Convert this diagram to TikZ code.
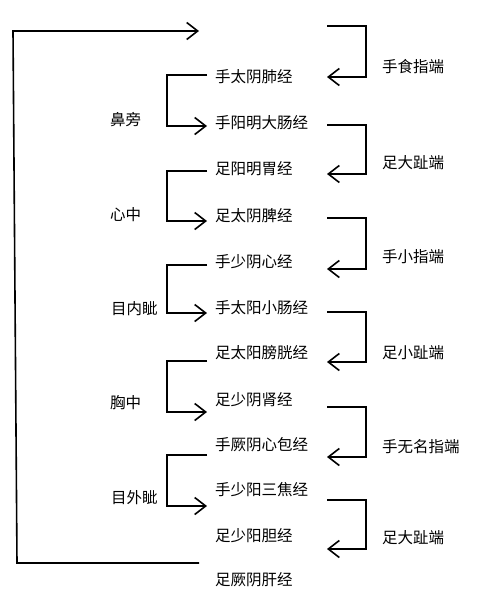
\documentclass[tikz,border=0pt]{standalone}
\usepackage{fontspec}
\newfontfamily\cjk{Noto Sans CJK SC}
\usetikzlibrary{arrows.meta}
\begin{document}
\begin{tikzpicture}[x=1pt,y=-1pt,
  mer/.style={anchor=west,inner sep=0pt,font=\cjk\fontsize{15.5}{16}\selectfont},
  lab/.style={anchor=west,inner sep=0pt,font=\cjk\fontsize{15.5}{16}\selectfont},
  ln/.style={line width=1.6pt,line join=miter},
  arr/.style={ln,-{Straight Barb[length=11pt,width=17pt,line width=1.6pt]}}]
\useasboundingbox (0,0) rectangle (500,613);
% meridians
\node[mer] (m1) at (215,77) {手太阴肺经};
\node[mer] (m2) at (215,123) {手阳明大肠经};
\node[mer] (m3) at (215,169) {足阳明胃经};
\node[mer] (m4) at (215,216) {足太阴脾经};
\node[mer] (m5) at (215,262) {手少阴心经};
\node[mer] (m6) at (215,308) {手太阳小肠经};
\node[mer] (m7) at (215,353) {足太阳膀胱经};
\node[mer] (m8) at (215,400) {足少阴肾经};
\node[mer] (m9) at (215,445) {手厥阴心包经};
\node[mer] (m10) at (215,490) {手少阳三焦经};
\node[mer] (m11) at (215,536) {足少阳胆经};
\node[mer] (m12) at (215,580) {足厥阴肝经};
% left labels
\node[lab] (l1) at (110,120) {鼻旁};
\node[lab] (l2) at (110,215) {心中};
\node[lab] (l3) at (111,309) {目内眦};
\node[lab] (l4) at (110,403) {胸中};
\node[lab] (l5) at (111,498) {目外眦};
% right labels
\node[lab] (r1) at (382,67) {手食指端};
\node[lab] (r2) at (382,163) {足大趾端};
\node[lab] (r3) at (382,257) {手小指端};
\node[lab] (r4) at (382,353) {足小趾端};
\node[lab] (r5) at (382,447) {手无名指端};
\node[lab] (r6) at (382,538) {足大趾端};
% left bracket ends
\coordinate (a1) at (207,75);  \coordinate (b1) at (207,126);
\coordinate (a2) at (207,171); \coordinate (b2) at (207,221);
\coordinate (a3) at (207,265); \coordinate (b3) at (207,313);
\coordinate (a4) at (207,361); \coordinate (b4) at (207,412);
\coordinate (a5) at (207,455); \coordinate (b5) at (207,506);
\foreach \i in {1,...,5}{
  \draw[arr] (a\i) -- ++(-40,0) |- (b\i);
}
% right bracket ends
\coordinate (c1) at (327,26);  \coordinate (d1) at (327,77);
\coordinate (c2) at (327,125); \coordinate (d2) at (327,174);
\coordinate (c3) at (327,218); \coordinate (d3) at (327,269);
\coordinate (c4) at (327,312); \coordinate (d4) at (327,362);
\coordinate (c5) at (327,407); \coordinate (d5) at (327,457);
\coordinate (c6) at (327,500); \coordinate (d6) at (327,549);
\foreach \i in {1,...,6}{
  \draw[arr] (c\i) -- ++(39,0) |- (d\i);
}
% big loop
\coordinate (e1) at (199,563);
\coordinate (e2) at (17,563);
\coordinate (e3) at (13,31);
\coordinate (e4) at (199,31);
\draw[arr] (e1) -- (e2) -- (e3) -- (e4);
\end{tikzpicture}
\end{document}
